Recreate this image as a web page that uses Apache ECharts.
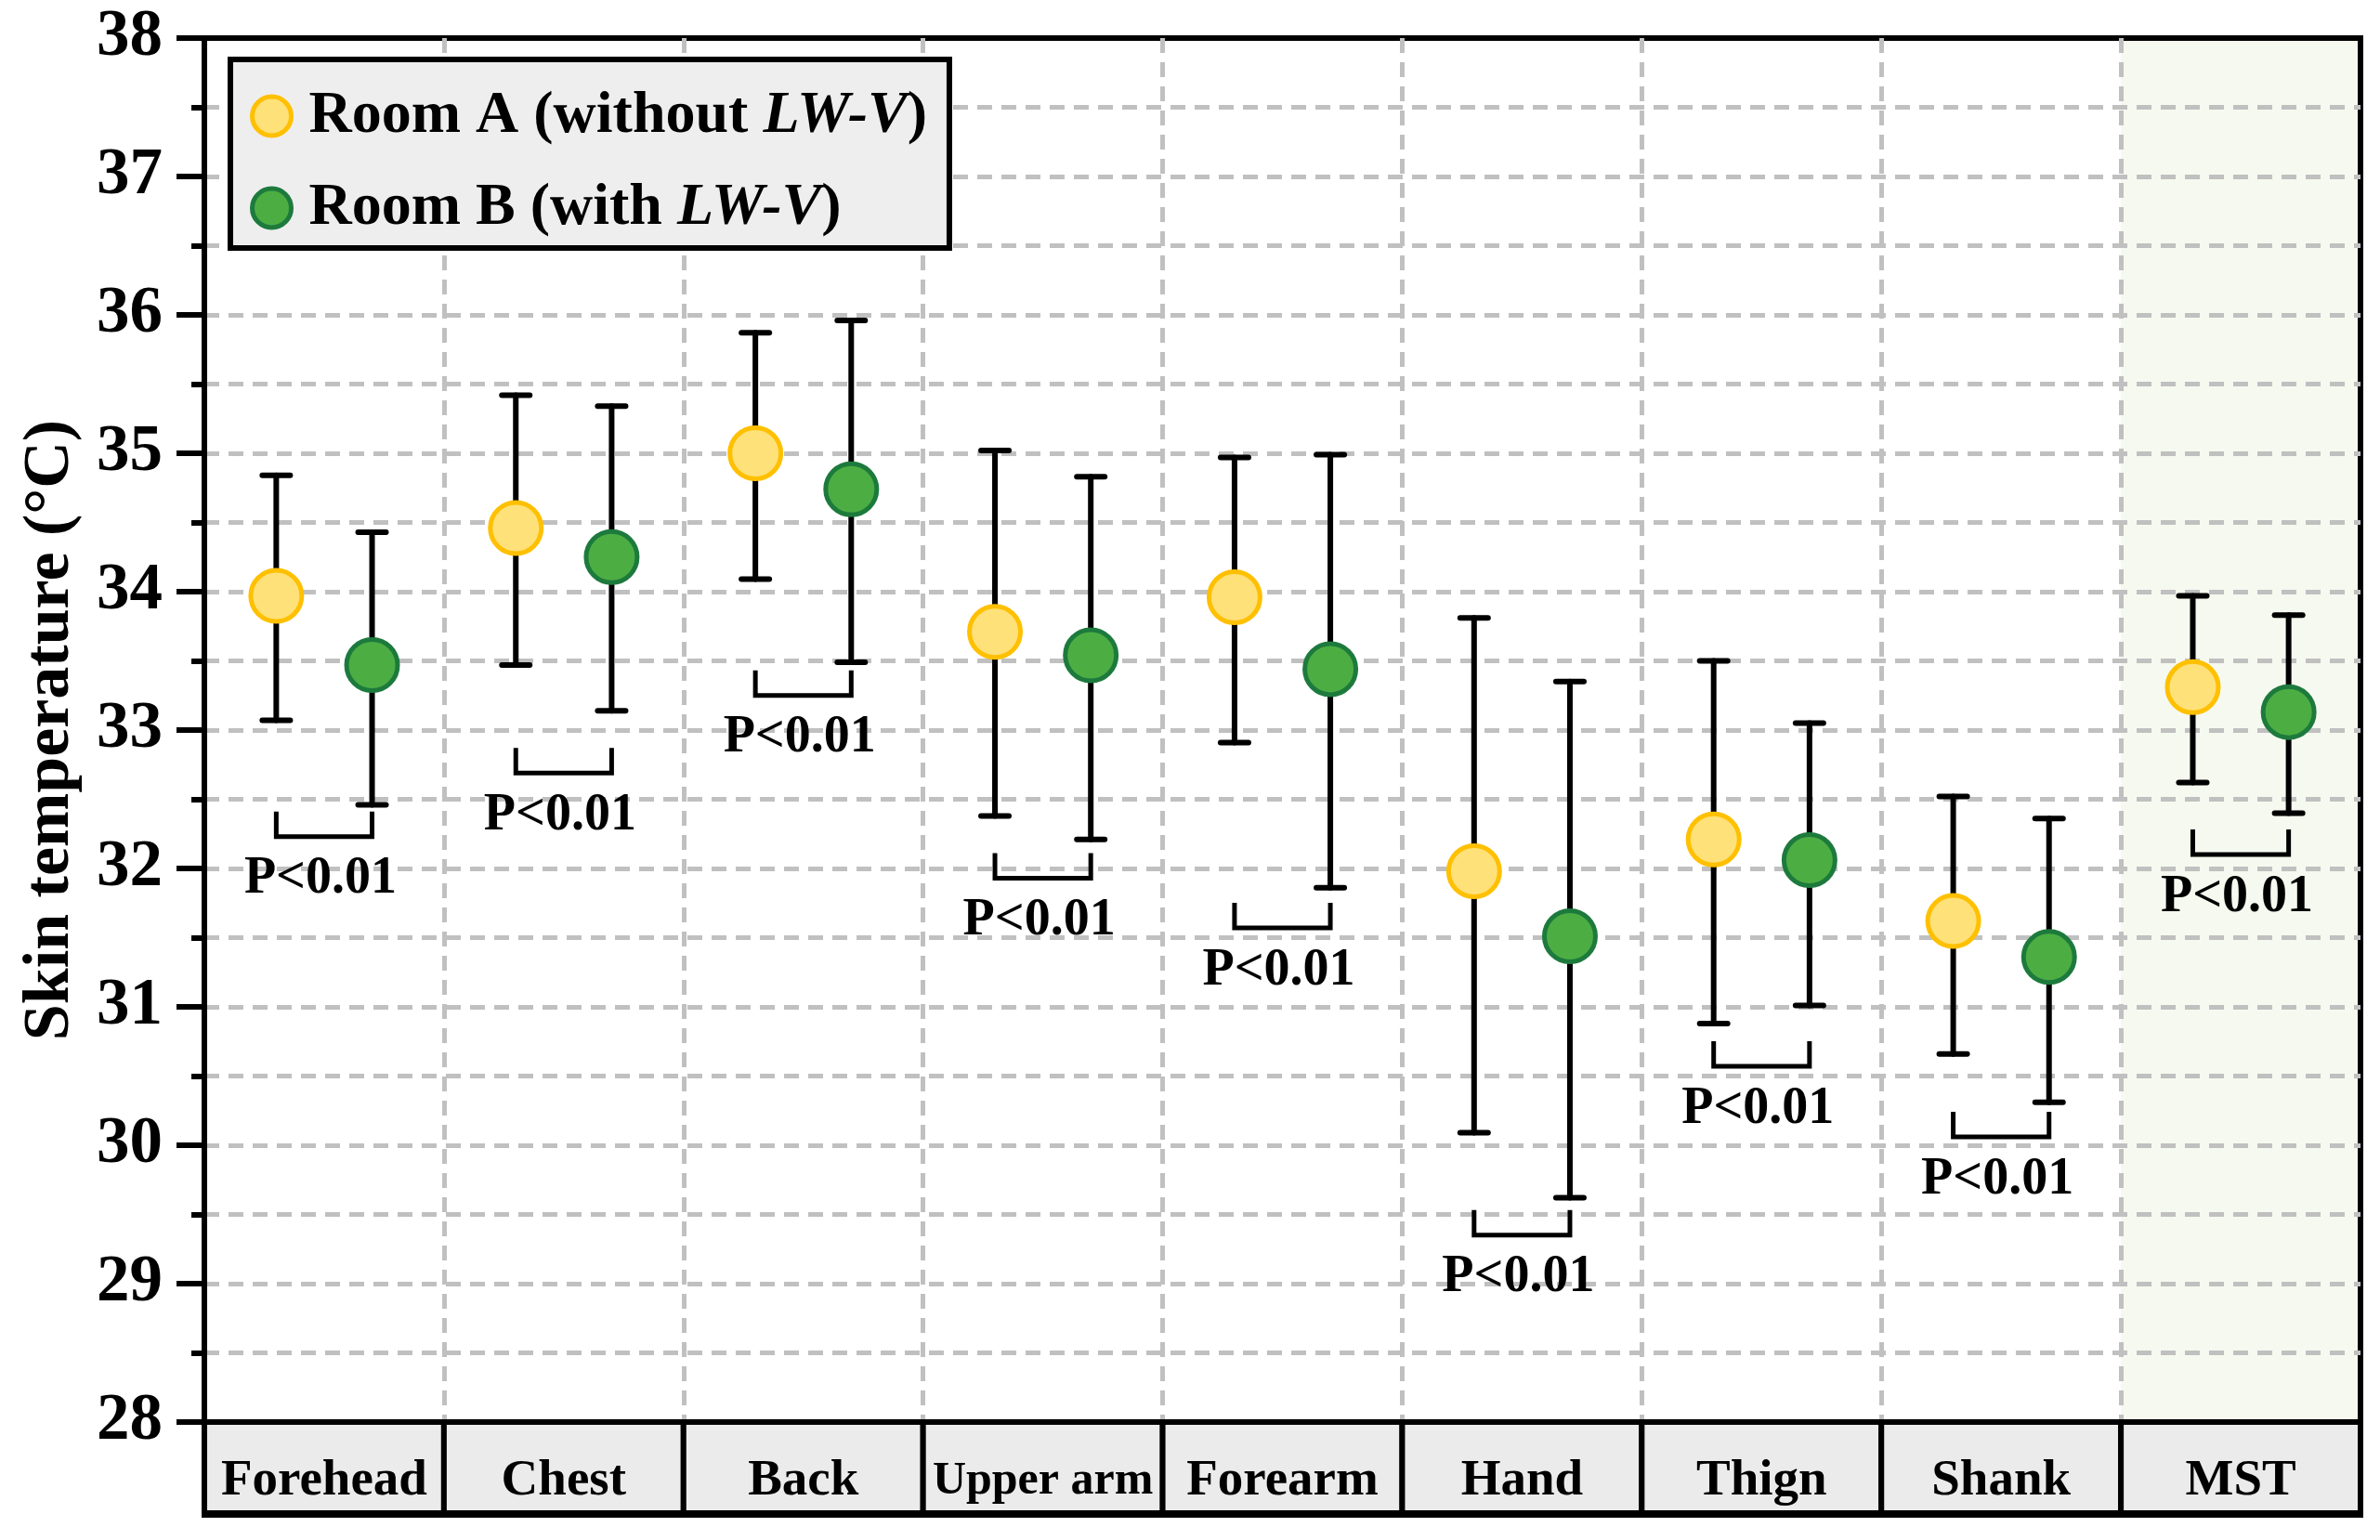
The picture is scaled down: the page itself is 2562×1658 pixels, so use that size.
<!DOCTYPE html>
<html>
<head>
<meta charset="utf-8">
<script src="https://cdn.jsdelivr.net/npm/echarts@6/dist/echarts.min.js"></script>
<style>
html,body{margin:0;padding:0;background:#fff;}
#chart{width:2562px;height:1658px;}
</style>
</head>
<body>
<div id="chart"></div>
<script>
// ---------------- data ----------------
const categories = ['Forehead', 'Chest', 'Back', 'Upper arm', 'Forearm', 'Hand', 'Thign', 'Shank', 'MST'];
const seriesNames = ['Room A (without LW-V)', 'Room B (with LW-V)'];
const roomAMean = [33.97, 34.46, 35.00, 33.71, 33.96, 31.98, 32.21, 31.62, 33.31];
const roomAHigh = [34.84, 35.42, 35.87, 35.02, 34.97, 33.81, 33.50, 32.52, 33.97];
const roomALow  = [33.07, 33.47, 34.09, 32.38, 32.91, 30.09, 30.88, 30.66, 32.62];
const roomBMean = [33.47, 34.25, 34.74, 33.54, 33.44, 31.51, 32.06, 31.36, 33.13];
const roomBHigh = [34.43, 35.34, 35.96, 34.83, 34.99, 33.35, 33.05, 32.36, 33.83];
const roomBLow  = [32.46, 33.14, 33.49, 32.21, 31.86, 29.62, 31.01, 30.31, 32.40];
const bracketLevel = [32.23, 32.69, 33.25, 31.93, 31.57, 29.35, 30.57, 30.06, 32.10];
const pLabels = ['P<0.01', 'P<0.01', 'P<0.01', 'P<0.01', 'P<0.01', 'P<0.01', 'P<0.01', 'P<0.01', 'P<0.01'];
const highlightCategory = 'MST';
const yMin = 28, yMax = 38, yInterval = 1;

// ---------------- style ----------------
const FONT = '"Liberation Serif", "Times New Roman", serif';
const GRID = {left: 220, right: 21, top: 41, bottom: 127};
const OFFSET_FRAC = 0.2;
const bandW = (2562 - GRID.left - GRID.right) / categories.length;
const markerOffset = bandW * OFFSET_FRAC;
const dash = {color: '#c0c0c0', width: 5, type: [16, 10]};

const chart = echarts.init(document.getElementById('chart'), null, {renderer: 'canvas'});

function errorData(low, high) {
  return categories.map((c, i) => [i, low[i], high[i]]);
}
function errorRender(side) {
  return function (params, api) {
    const idx = api.value(0);
    const lo = api.coord([idx, api.value(1)]);
    const hi = api.coord([idx, api.value(2)]);
    const bw = api.size([1, 0])[0];
    const x = lo[0] + side * bw * OFFSET_FRAC;
    const cw = 15;
    const style = {stroke: '#000', lineWidth: 6, lineCap: 'round', fill: null};
    return {
      type: 'group',
      children: [
        {type: 'line', shape: {x1: x, y1: hi[1], x2: x, y2: lo[1]}, style: style},
        {type: 'line', shape: {x1: x - cw, y1: hi[1], x2: x + cw, y2: hi[1]}, style: style},
        {type: 'line', shape: {x1: x - cw, y1: lo[1], x2: x + cw, y2: lo[1]}, style: style}
      ]
    };
  };
}

function bracketRender(params, api) {
  const idx = api.value(0);
  const p = api.coord([idx, api.value(1)]);
  const bw = api.size([1, 0])[0];
  const xa = p[0] - bw * OFFSET_FRAC;
  const xb = p[0] + bw * OFFSET_FRAC;
  const h = 27;
  return {
    type: 'group',
    children: [
      {type: 'polyline', shape: {points: [[xa, p[1] - h], [xa, p[1]], [xb, p[1]], [xb, p[1] - h]]},
       style: {stroke: '#000', lineWidth: 5, fill: null, lineJoin: 'miter'}},
      {type: 'text', style: {text: pLabels[idx], x: p[0] - 4, y: p[1] + 46, align: 'center', verticalAlign: 'middle',
        fontFamily: FONT, fontWeight: 'bold', fontSize: 56, fill: '#000'}}
    ]
  };
}

function stripRender(params, api) {
  const idx = api.value(0);
  const p = api.coord([idx, yMin]);
  const bw = api.size([1, 0])[0];
  const h = 99;
  return {
    type: 'group',
    children: [
      {type: 'rect', shape: {x: p[0] - bw / 2, y: p[1], width: bw, height: h},
       style: {fill: '#ebebeb', stroke: '#000', lineWidth: 6}},
      {type: 'line', shape: {x1: p[0] - bw / 2 - 3, y1: p[1] + h, x2: p[0] + bw / 2 + 3, y2: p[1] + h},
       style: {stroke: '#000', lineWidth: 8}}
    ]
  };
}

function legendFormatter(name) {
  const parts = name.split('LW-V');
  return '{g|}' + parts.map(s => s ? '{n|' + s + '}' : '').join('{i|LW-V}');
}

const option = {
  backgroundColor: '#ffffff',
  animation: false,
  grid: {left: GRID.left, right: GRID.right, top: GRID.top, bottom: GRID.bottom, show: true,
    borderColor: '#000', borderWidth: 6, backgroundColor: 'transparent'},
  legend: {
    data: seriesNames,
    orient: 'vertical',
    left: 248, top: 64,
    padding: [29, 24, 11, 21],
    itemGap: 35,
    itemWidth: 42, itemHeight: 42,
    backgroundColor: '#eeeeee',
    borderColor: '#000', borderWidth: 6,
    icon: 'circle',
    itemStyle: {borderWidth: 5},
    formatter: legendFormatter,
    textStyle: {
      fontFamily: FONT, fontWeight: 'bold', fontSize: 64, color: '#000',
      rich: {
        g: {width: 14},
        n: {fontFamily: FONT, fontWeight: 'bold', fontSize: 64, color: '#000'},
        i: {fontFamily: FONT, fontWeight: 'bold', fontStyle: 'italic', fontSize: 64, color: '#000'}
      }
    }
  },
  xAxis: {
    type: 'category',
    data: categories,
    boundaryGap: true,
    axisLine: {show: true, lineStyle: {color: '#000', width: 6}},
    axisTick: {show: false},
    axisLabel: {
      interval: 0, margin: 64, verticalAlign: 'middle', color: '#000',
      fontFamily: FONT, fontWeight: 'bold', fontSize: 55,
      formatter: v => v === 'Upper arm' ? '{s|' + v + '}' : '{m|' + v + '}',
      rich: {
        m: {fontFamily: FONT, fontWeight: 'bold', fontSize: 55, color: '#000'},
        s: {fontFamily: FONT, fontWeight: 'bold', fontSize: 50, color: '#000'}
      }
    },
    splitLine: {show: true, interval: 0, showMinLine: false, showMaxLine: false, lineStyle: dash}
  },
  yAxis: {
    type: 'value',
    min: yMin, max: yMax, interval: yInterval,
    name: 'Skin temperature (°C)',
    nameLocation: 'middle', nameRotate: 90, nameGap: 130,
    nameTextStyle: {fontFamily: FONT, fontWeight: 'bold', fontSize: 70, color: '#000'},
    axisLine: {show: true, lineStyle: {color: '#000', width: 6}},
    axisTick: {show: true, length: 30, lineStyle: {color: '#000', width: 6}},
    minorTick: {show: true, splitNumber: 2, length: 14, lineStyle: {color: '#000', width: 6}},
    axisLabel: {margin: 45, color: '#000', fontFamily: FONT, fontWeight: 'bold', fontSize: 71},
    splitLine: {show: true, showMinLine: false, showMaxLine: false, lineStyle: dash},
    minorSplitLine: {show: true, lineStyle: dash}
  },
  series: [
    {
      name: 'highlight', type: 'bar', z: -2, silent: true, barWidth: '100%',
      data: categories.map(c => c === highlightCategory ? yMax : null),
      itemStyle: {color: '#f6f9ef'}
    },
    {
      name: 'strip', type: 'custom', z: -1, silent: true, clip: false,
      data: categories.map((c, i) => [i]),
      renderItem: stripRender
    },
    {
      name: 'errA', type: 'custom', z: 3, silent: true,
      data: errorData(roomALow, roomAHigh), renderItem: errorRender(-1)
    },
    {
      name: 'errB', type: 'custom', z: 3, silent: true,
      data: errorData(roomBLow, roomBHigh), renderItem: errorRender(1)
    },
    {
      name: 'brackets', type: 'custom', z: 3, silent: true,
      data: bracketLevel.map((v, i) => [i, v]), renderItem: bracketRender
    },
    {
      name: seriesNames[0], type: 'scatter', z: 4,
      symbol: 'circle', symbolSize: 55, symbolOffset: [-markerOffset, 0],
      data: roomAMean,
      itemStyle: {color: '#ffe17a', borderColor: '#ffc000', borderWidth: 5, opacity: 1}
    },
    {
      name: seriesNames[1], type: 'scatter', z: 4,
      symbol: 'circle', symbolSize: 55, symbolOffset: [markerOffset, 0],
      data: roomBMean,
      itemStyle: {color: '#4cae42', borderColor: '#1d7a3d', borderWidth: 5, opacity: 1}
    }
  ]
};
chart.setOption(option);
</script>
</body>
</html>
